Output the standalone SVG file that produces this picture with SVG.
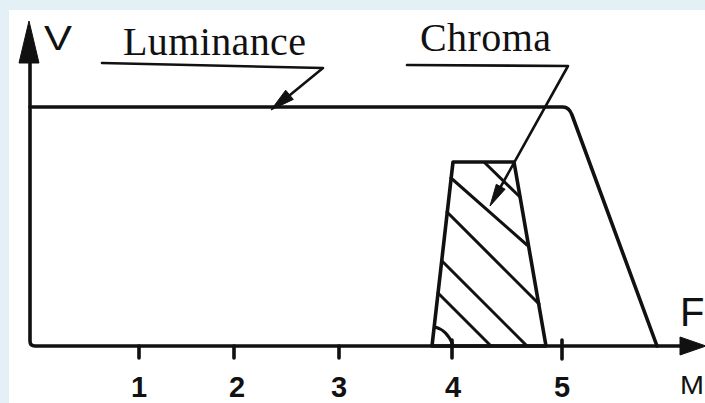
<svg xmlns="http://www.w3.org/2000/svg" width="705" height="403" viewBox="0 0 705 403">
<style>
.ln{fill:none;stroke:#111;stroke-width:3.6;stroke-linecap:round;stroke-linejoin:round}
.th{fill:none;stroke:#111;stroke-width:2.6;stroke-linecap:round;stroke-linejoin:round}
.hat{fill:none;stroke:#111;stroke-width:3;stroke-linecap:round}
.ah{fill:#111;stroke:#111;stroke-width:1;stroke-linejoin:round}
.lbl{font-family:"Liberation Serif","Times New Roman",serif;font-size:40px;fill:#111}
.ax{font-family:"Liberation Sans",Arial,sans-serif;fill:#111}
.num{font-family:"Liberation Sans",Arial,sans-serif;font-size:29px;font-weight:bold;fill:#111}
</style>
<rect x="0" y="0" width="705" height="403" fill="#e3f1f6"/>
<rect x="9" y="10" width="696" height="393" fill="#ffffff"/>
<g id="axes">
<path class="ln" d="M30,40 V341 Q30,346 35,346 H688"/>
<polygon class="ah" points="29,21 19,63 39,63"/>
<polygon class="ah" points="680,337 706,346 680,355"/>
<path class="ln" d="M139,346 V358 M234,346 V358 M339,346 V358 M452,340 V358 M562,340 V359"/>
<text class="ax" x="44" y="50" font-size="35" textLength="28" lengthAdjust="spacingAndGlyphs">V</text>
<text class="ax" x="680" y="326" font-size="40">F</text>
<text class="ax" x="680" y="394" font-size="25" textLength="24" lengthAdjust="spacingAndGlyphs">M</text>
</g>
<g id="ticks-labels">
<text class="num" x="139" y="397" text-anchor="middle">1</text>
<text class="num" x="237" y="397" text-anchor="middle">2</text>
<text class="num" x="339" y="397" text-anchor="middle">3</text>
<text class="num" x="453" y="397" text-anchor="middle">4</text>
<text class="num" x="562" y="397" text-anchor="middle">5</text>
</g>
<g id="luminance">
<path class="ln" d="M30,107 H563 Q569,107 572,115 L657,346"/>
</g>
<g id="chroma">
<polygon class="ln" points="432,346 453,162 514,162 546,346"/>
<path class="hat" d="M485,163 L520,197 M451,178 L527,245 M447,212 L539,304 M442,261 L526,345 M438,293 L490,345 M435,327 Q447,330 453,345"/>
</g>
<g id="connectors">
<path class="th" d="M102,63 L323,68 L290,95"/>
<polygon class="ah" points="271,110 285.7,90.2 293.3,99.4"/>
<path class="th" d="M407,65 L568,66 L500,188"/>
<polygon class="ah" points="490,206 496.3,184.3 505.1,189.2"/>
</g>
<g id="titles">
<text class="lbl" x="123" y="55" textLength="183" lengthAdjust="spacing">Luminance</text>
<text class="lbl" x="420" y="51" textLength="131" lengthAdjust="spacing">Chroma</text>
</g>
</svg>
